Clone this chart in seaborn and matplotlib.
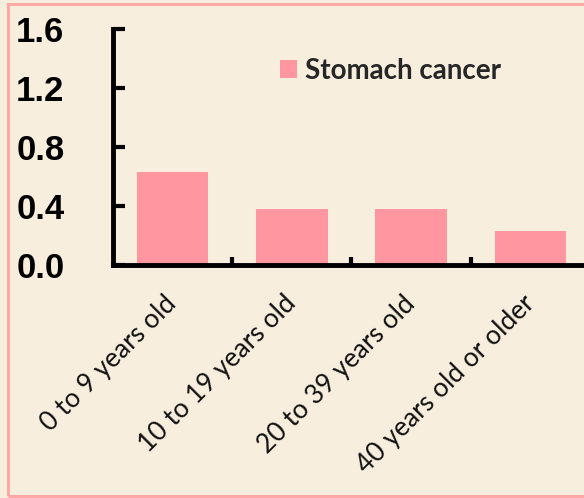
import matplotlib
matplotlib.use("Agg")
import matplotlib.pyplot as plt
from matplotlib.patches import Rectangle
import seaborn as sns

# Data
categories = ["0 to 9 years old", "10 to 19 years old", "20 to 39 years old", "40 years old or older"]
values = [0.63, 0.38, 0.38, 0.23]
series_name = "Stomach cancer"
y_ticks = [0.0, 0.4, 0.8, 1.2, 1.6]

bg = "#F8EEDE"
bar_color = "#FF96A0"
border_color = "#FFA8A8"

sns.set_style("white")
plt.rcParams["font.family"] = ["Lato", "DejaVu Sans"]

fig = plt.figure(figsize=(5.84, 4.98), dpi=100, facecolor=bg)
ax = fig.add_axes([113 / 584, 1 - 265 / 498, 471 / 584, 236 / 498])
ax.set_facecolor(bg)

sns.barplot(x=categories, y=values, color=bar_color, saturation=1, width=0.6,
            linewidth=0, label=series_name, ax=ax)

ax.set_xlim(-0.5, 3.45)
ax.set_ylim(0, 1.6)
ax.set_xlabel("")
ax.set_ylabel("")

for side in ("top", "right"):
    ax.spines[side].set_visible(False)
for side in ("left", "bottom"):
    ax.spines[side].set_linewidth(3.5)
    ax.spines[side].set_color("black")

# y axis: bold labels far left, ticks pointing inward
ax.set_yticks(y_ticks)
ax.set_yticklabels([f"{v:.1f}" for v in y_ticks], fontfamily="Liberation Sans",
                   fontweight="bold", fontsize=25)
ax.tick_params(axis="y", left=True, direction="in", length=8.5, width=3, pad=35,
               colors="black")

# x axis: tick marks between categories, rotated labels under each bar
ax.set_xticks(range(len(categories)))
ax.set_xticklabels(categories, rotation=45, ha="right", va="center",
                   rotation_mode="anchor", fontsize=19, color="#111111")
ax.tick_params(axis="x", which="major", bottom=True, length=0, pad=25)
ax.set_xticks([0.5, 1.5, 2.5], minor=True)
ax.tick_params(axis="x", which="minor", bottom=True, direction="in", length=6, width=3,
               color="black")

ax.legend(loc="center left", bbox_to_anchor=(280 / 584, 1 - 71 / 498),
          bbox_transform=fig.transFigure, frameon=False,
          prop={"family": ["Lato", "DejaVu Sans"], "weight": "bold", "size": 20},
          handlelength=0.6, handleheight=0.6, handletextpad=0.3, borderpad=0,
          borderaxespad=0)

# pink frame around the figure
fig.patches.append(Rectangle((8 / 584, 2 / 498), 1.2, 492 / 498,
                             transform=fig.transFigure, fill=False,
                             edgecolor=border_color, linewidth=2.2))

fig.savefig("out.png", dpi=100, facecolor=bg)
